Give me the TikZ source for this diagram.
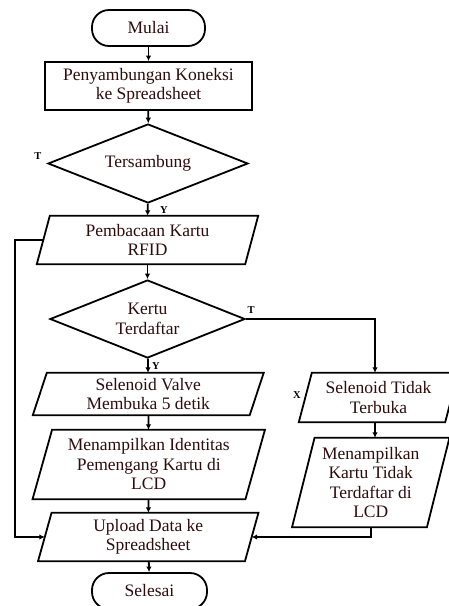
\documentclass[tikz,border=0pt]{standalone}
\usepackage{fontspec}
\setmainfont{Liberation Serif}
\usetikzlibrary{shapes.geometric,arrows.meta,calc}
\definecolor{txt}{RGB}{45,12,12}
\begin{document}
\begin{tikzpicture}[x=1pt,y=-1pt,
  line/.style={line width=1.8pt,draw=black,line join=miter},
  arr/.style={line width=1.8pt,draw=black,-{Latex[length=5.5pt,width=5.5pt]}},
  base/.style={inner sep=0pt,align=center,text=txt,font=\fontsize{17.5}{19.5}\selectfont},
  term/.style={base,line,rectangle,rounded corners=17pt,minimum width=113pt,minimum height=36pt},
  proc/.style={base,line,rectangle,minimum width=207pt,minimum height=48pt},
  dec/.style={base,line,diamond,aspect=2.5},
  iobox/.style={base,rectangle,draw=none},
  lbl/.style={inner sep=0pt,font=\bfseries\fontsize{10.5}{11}\selectfont,text=black}]
\useasboundingbox (0,0) rectangle (449,606);
\node[term] (start) at (148.5,28) {Mulai};
\node[proc] (conn) at (148.5,86) {Penyambungan Koneksi\\ke Spreadsheet};
\node[dec,minimum width=200pt,minimum height=79pt] (ters) at (148,163.5) {Tersambung};
\node[iobox,minimum width=208pt,minimum height=48pt] (pem) at (147.5,240) {Pembacaan Kartu\\RFID};
\node[dec,minimum width=195pt,minimum height=78pt] (kertu) at (147.5,319) {Kertu\\Terdaftar};
\node[iobox,minimum width=216.5pt,minimum height=42pt] (sv) at (148.25,394) {Selenoid Valve\\Membuka 5 detik};
\node[iobox,minimum width=212.5pt,minimum height=69pt] (mi) at (148.75,464.5) {Menampilkan Identitas\\Pemengang Kartu di\\LCD};
\node[iobox,minimum width=206.5pt,minimum height=48pt] (up) at (148.25,537) {Upload Data ke\\Spreadsheet};
\node[term,minimum width=115pt] (end) at (149.5,591) {Selesai};
\node[iobox,minimum width=146pt,minimum height=49pt] (st) at (378.5,397.5) {Selenoid Tidak\\Terbuka};
\node[iobox,minimum width=134.5pt,minimum height=89pt] (mk) at (370.75,482.5) {Menampilkan\\Kartu Tidak\\Terdaftar di\\LCD};
\foreach \n/\s in {pem/6.5,sv/7,mi/9.75,up/6.75,st/6.5,mk/11.25}
  \draw[line] ([xshift=\s pt]\n.north west) -- ([xshift=\s pt]\n.north east)
     -- ([xshift=-\s pt]\n.south east) -- ([xshift=-\s pt]\n.south west) -- cycle;
\node[lbl] (lt1) at (38,156) {T};
\node[lbl] (ly1) at (164,210) {Y};
\node[lbl] (ly2) at (156,366) {Y};
\node[lbl] (lt2) at (251,310) {T};
\node[lbl] (lx) at (297,395) {X};
\coordinate (lb) at (15,240);
\draw[arr] (start) -- (conn);
\draw[arr] (conn) -- (ters);
\draw[arr] (ters) -- (pem);
\draw[arr] (pem) -- (kertu);
\draw[arr] (kertu) -- (sv);
\draw[arr] (sv) -- (mi);
\draw[arr] (mi) -- (up);
\draw[arr] (up) -- (end);
\draw[arr] (kertu.east) -| ([xshift=-3.5pt]st.north);
\draw[arr] ([xshift=-3.5pt]st.south) -- ([xshift=-3.5pt]st.south |- mk.north);
\draw[arr] (mk.south) |- (up.east);
\draw[arr] (pem.west) -- (lb) |- (up.west);
\end{tikzpicture}
\end{document}
